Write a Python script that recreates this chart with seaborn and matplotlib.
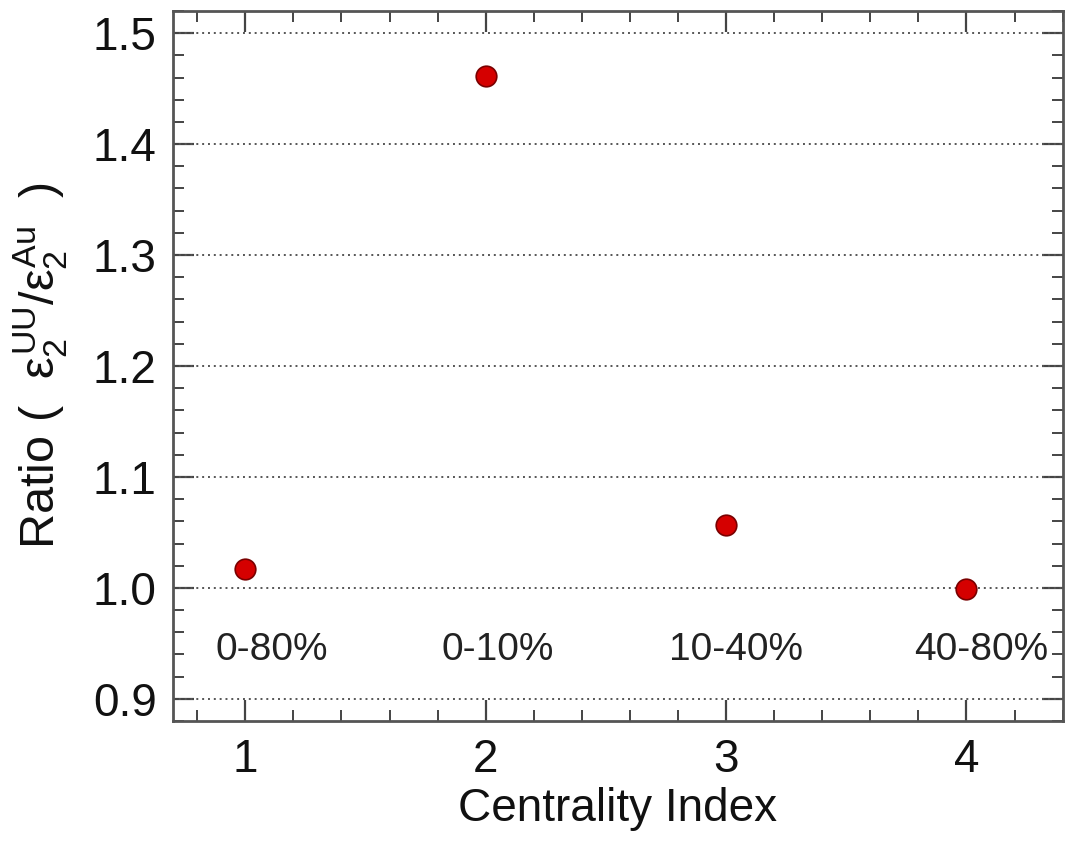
import matplotlib
matplotlib.use("Agg")
import matplotlib.pyplot as plt
from matplotlib.ticker import MultipleLocator, FormatStrFormatter
import seaborn as sns
import pandas as pd

# data
centrality_index = [1, 2, 3, 4]
ratio = [1.017, 1.461, 1.057, 0.999]
centrality_labels = ["0-80%", "0-10%", "10-40%", "40-80%"]

# annotation layout (text placement, not data)
label_x_shift = [0.11, 0.05, 0.04, 0.06]
label_y = 0.944

sns.set_theme(style="ticks")
plt.rcParams["font.family"] = ["Liberation Sans", "DejaVu Sans"]
plt.rcParams["mathtext.fontset"] = "custom"
plt.rcParams["mathtext.rm"] = "Liberation Sans"
plt.rcParams["mathtext.it"] = "Liberation Sans"
plt.rcParams["mathtext.bf"] = "Liberation Sans:bold"

df = pd.DataFrame({"idx": centrality_index, "ratio": ratio})

fig = plt.figure(figsize=(10.69, 8.43), dpi=100)
ax = fig.add_axes([0.162, 0.1447, 0.832, 0.8423])

for y in [0.9, 1.0, 1.1, 1.2, 1.3, 1.4, 1.5]:
    ax.axhline(y, color="#555555", linestyle=(0, (1, 2)), linewidth=1.4, zorder=1)

sns.scatterplot(data=df, x="idx", y="ratio", ax=ax, s=220, color="#d50000",
                edgecolor="#7a0000", linewidth=1.2, zorder=3, legend=False)

for xi, dx, lab in zip(centrality_index, label_x_shift, centrality_labels):
    ax.text(xi + dx, label_y, lab, ha="center", va="center", fontsize=28, color="#222222")

ax.set_xlim(0.7, 4.4)
ax.set_ylim(0.88, 1.52)
ax.xaxis.set_major_locator(MultipleLocator(1))
ax.xaxis.set_minor_locator(MultipleLocator(0.2))
ax.yaxis.set_major_locator(MultipleLocator(0.1))
ax.yaxis.set_minor_locator(MultipleLocator(0.02))
ax.yaxis.set_major_formatter(FormatStrFormatter("%.1f"))

ax.tick_params(which="both", direction="in", top=True, right=True, colors="#444444",
               labelcolor="#111111")
ax.tick_params(which="major", length=15, width=1.6, labelsize=33, pad=12)
ax.tick_params(which="minor", length=8, width=1.4)
for sp in ax.spines.values():
    sp.set_color("#555555")
    sp.set_linewidth(2)

ax.set_xlabel("Centrality Index", fontsize=33, color="#111111", labelpad=4)
ax.set_ylabel(r"Ratio (  $\varepsilon_2^{UU}/\varepsilon_2^{Au}$  )", fontsize=35,
              color="#111111", labelpad=16)

fig.savefig("out.png", dpi=100, facecolor="white")
